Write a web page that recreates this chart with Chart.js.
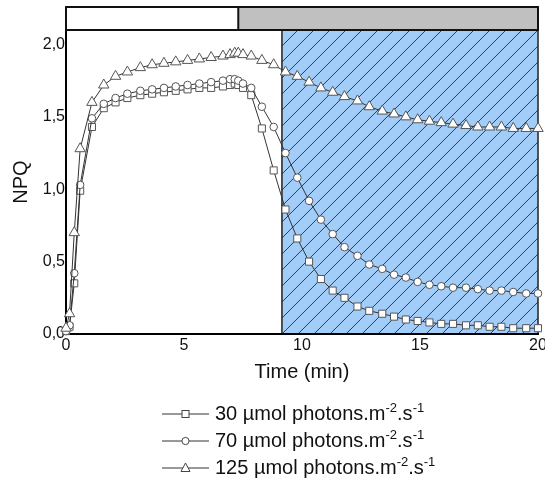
<!DOCTYPE html>
<html>
<head>
<meta charset="utf-8">
<script src="https://cdn.jsdelivr.net/npm/chart.js@4.4.1/dist/chart.umd.min.js"></script>
<style>
  body{margin:0;background:#fff;font-family:"Liberation Sans",Arial,sans-serif}
  #wrap{position:relative;width:545px;height:487px}
  #legend{position:absolute;left:162px;top:400px;font-size:20px;color:#111}
  .row{height:27px;display:flex;align-items:center;white-space:nowrap}
  .row svg{margin-right:5px}
  sup{font-size:13px;vertical-align:8px;line-height:0}
</style>
</head>
<body>
<div id="wrap">
  <canvas id="chart" width="545" height="487"></canvas>
  <div id="legend"></div>
</div>
<script>
// temps (min) et NPQ
const times = [0, 0.15, 0.35, 0.6, 1.1, 1.6, 2.1, 2.6, 3.15, 3.65, 4.15, 4.65, 5.15, 5.65, 6.15, 6.65, 6.95, 7.15, 7.3, 7.5, 7.85, 8.3, 8.8,
  9.3, 9.8, 10.3, 10.8, 11.3, 11.8, 12.35, 12.85, 13.4, 13.9, 14.4, 14.9, 15.4, 15.9, 16.4, 16.95, 17.45, 17.95, 18.45, 18.95, 19.5, 20]
const npq30 = [0.02, 0.05, 0.35, 0.99, 1.43, 1.56, 1.60, 1.63, 1.65, 1.66, 1.67, 1.68, 1.69, 1.70, 1.70, 1.71, 1.72, 1.73, 1.72, 1.70, 1.65, 1.42, 1.13,
  0.86, 0.66, 0.50, 0.38, 0.30, 0.25, 0.19, 0.16, 0.14, 0.12, 0.10, 0.09, 0.08, 0.07, 0.07, 0.06, 0.06, 0.05, 0.05, 0.04, 0.04, 0.04]
const npq70 = [0.02, 0.06, 0.42, 1.03, 1.49, 1.59, 1.63, 1.66, 1.68, 1.69, 1.70, 1.71, 1.72, 1.73, 1.74, 1.75, 1.76, 1.76, 1.75, 1.73, 1.70, 1.57, 1.43,
  1.25, 1.08, 0.92, 0.79, 0.69, 0.60, 0.54, 0.48, 0.45, 0.41, 0.39, 0.36, 0.34, 0.33, 0.32, 0.32, 0.31, 0.30, 0.30, 0.29, 0.28, 0.28]
const npq125 = [0.04, 0.14, 0.70, 1.28, 1.60, 1.72, 1.78, 1.81, 1.84, 1.86, 1.87, 1.88, 1.89, 1.90, 1.91, 1.92, 1.93, 1.94, 1.94, 1.93, 1.92, 1.89, 1.86,
  1.81, 1.78, 1.74, 1.70, 1.67, 1.64, 1.61, 1.57, 1.54, 1.52, 1.50, 1.48, 1.47, 1.46, 1.45, 1.44, 1.43, 1.43, 1.43, 1.42, 1.42, 1.42]
const seriesLabels = ['30', '70', '125']
const xTicks = [0, 5, 10, 15, 20]
const yTicks = [0, 0.5, 1, 1.5, 2]
const grayFrom = 7.3   // barre grise du haut
const darkFrom = 9.15  // zone hachurée (obscurité)

const pts = arr => times.map((t, i) => ({x: t, y: arr[i]}))

// fond bleu hachuré + barre du haut
const fond = {
  id: 'fond',
  beforeDraw(chart){
    const {ctx, chartArea: a, scales: {x}} = chart
    const x0 = x.getPixelForValue(darkFrom)
    const h = a.bottom - a.top
    ctx.save()
    ctx.fillStyle = '#a2cdf9'
    ctx.fillRect(x0, a.top, a.right - x0, h)
    ctx.beginPath()
    ctx.rect(x0, a.top, a.right - x0, h)
    ctx.clip()
    ctx.strokeStyle = '#2b3b5c'
    ctx.lineWidth = 1
    for(let s = x0 - h; s < a.right; s += 16){
      ctx.beginPath()
      ctx.moveTo(s, a.bottom)
      ctx.lineTo(s + h, a.top)
      ctx.stroke()
    }
    ctx.restore()
    ctx.save()
    ctx.strokeStyle = '#222'
    ctx.lineWidth = 1.5
    ctx.beginPath()
    ctx.moveTo(x0, a.top); ctx.lineTo(x0, a.bottom)
    ctx.moveTo(a.right, a.top); ctx.lineTo(a.right, a.bottom)
    ctx.stroke()
    ctx.restore()
  },
  afterDraw(chart){
    const {ctx, chartArea: a, scales: {x}} = chart
    const xg = x.getPixelForValue(grayFrom)
    const top = a.top - 23
    ctx.save()
    ctx.fillStyle = '#fff'
    ctx.fillRect(a.left, top, xg - a.left, 23)
    ctx.fillStyle = '#c0c0c0'
    ctx.fillRect(xg, top, a.right - xg, 23)
    ctx.strokeStyle = '#111'
    ctx.lineWidth = 2
    ctx.strokeRect(a.left, top, a.right - a.left, 23)
    ctx.beginPath()
    ctx.moveTo(xg, top); ctx.lineTo(xg, a.top)
    ctx.stroke()
    ctx.restore()
  }
}

const tickFont = {family: '"Liberation Sans", Arial, sans-serif', size: 16}
const titleFont = {family: '"Liberation Sans", Arial, sans-serif', size: 20}

const mk = (arr, style, r) => ({
  data: pts(arr),
  borderColor: '#333',
  borderWidth: 1,
  pointStyle: style,
  pointRadius: r,
  pointHoverRadius: r,
  pointBackgroundColor: '#fff',
  pointBorderColor: '#555',
  pointBorderWidth: 1,
  tension: 0,
  clip: false
})

new Chart(document.getElementById('chart'), {
  type: 'line',
  data: {
    datasets: [
      mk(npq125, 'triangle', 6),
      mk(npq70, 'circle', 3.8),
      mk(npq30, 'rect', 5)
    ]
  },
  options: {
    responsive: false,
    animation: false,
    layout: {padding: {left: 0, right: 7, top: 30, bottom: 103}},
    plugins: {legend: {display: false}, tooltip: {enabled: false}},
    scales: {
      x: {
        type: 'linear', min: 0, max: 20,
        afterBuildTicks: s => { s.ticks = xTicks.map(v => ({value: v})) },
        afterFit: s => { s.height = 50; s.paddingLeft = 0; s.paddingRight = 0 },
        grid: {display: false, drawTicks: false},
        border: {color: '#000', width: 2},
        ticks: {font: tickFont, color: '#111', padding: 2, maxRotation: 0},
        title: {display: true, text: 'Time (min)', font: titleFont, color: '#111', padding: {top: 0, bottom: 0}}
      },
      y: {
        min: 0, max: 2.1,
        afterBuildTicks: s => { s.ticks = yTicks.map(v => ({value: v})) },
        afterFit: s => { s.width = 66; s.paddingTop = 0; s.paddingBottom = 0 },
        grid: {display: false, drawTicks: false},
        border: {color: '#000', width: 2},
        ticks: {font: tickFont, color: '#111', padding: 1, callback: v => v.toFixed(1).replace('.', ',')},
        title: {display: true, text: 'NPQ', font: titleFont, color: '#111', padding: {top: 9, bottom: 0}}
      }
    }
  },
  plugins: [fond]
})

// légende
const symbols = {
  rect: '<rect x="20" y="6.5" width="7" height="7" fill="#fff" stroke="#444"/>',
  circle: '<circle cx="23.5" cy="10" r="3.6" fill="#fff" stroke="#444"/>',
  triangle: '<polygon points="23.5,5 28,13.5 19,13.5" fill="#fff" stroke="#444"/>'
}
const styles = ['rect', 'circle', 'triangle']
document.getElementById('legend').innerHTML = seriesLabels.map((lab, i) =>
  `<div class="row"><svg width="48" height="20"><line x1="0" y1="10" x2="47" y2="10" stroke="#333" stroke-width="1"/>${symbols[styles[i]]}</svg>` +
  `<span>${lab} µmol photons.m<sup>-2</sup>.s<sup>-1</sup></span></div>`).join('')
</script>
</body>
</html>
